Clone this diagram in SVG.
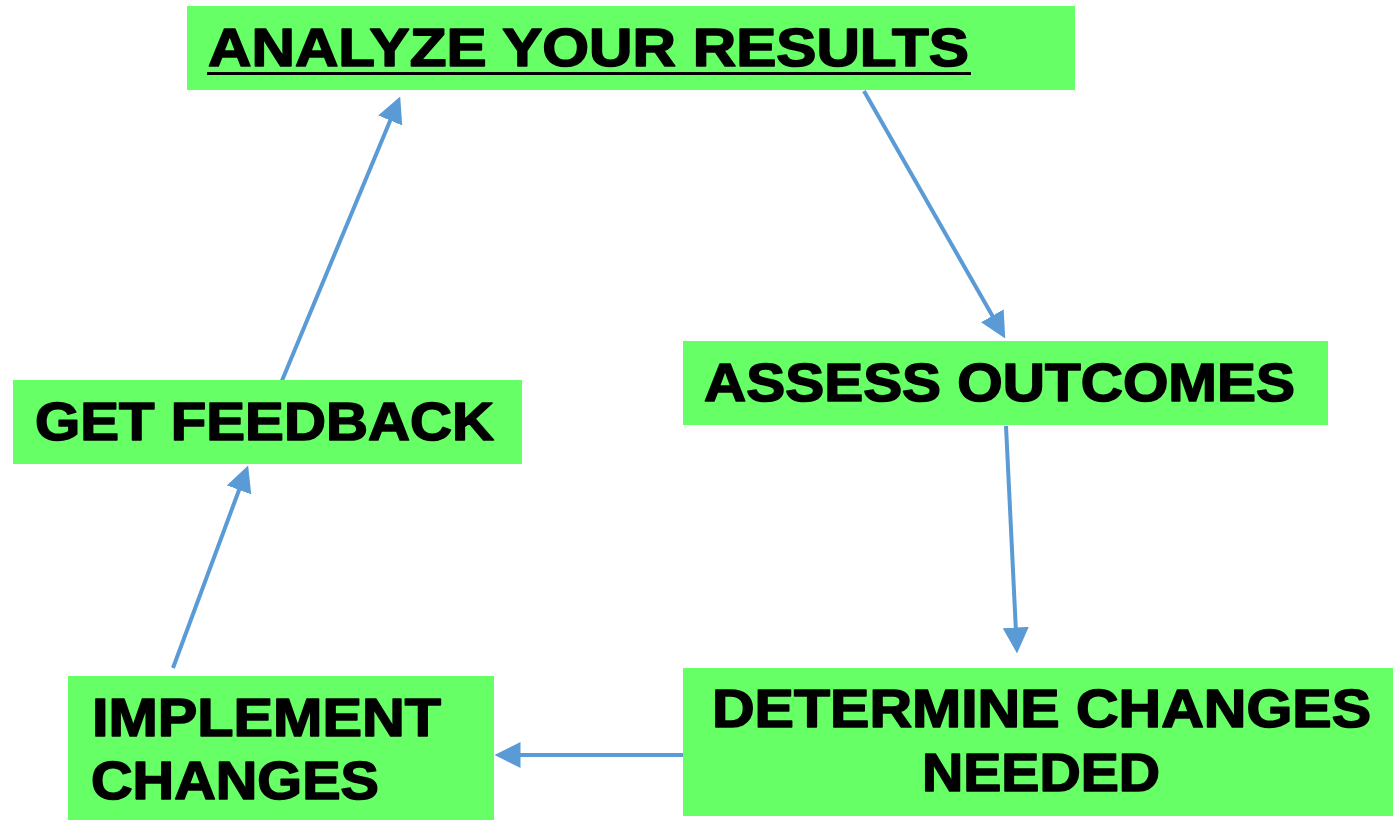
<svg xmlns="http://www.w3.org/2000/svg" width="1393" height="821" viewBox="0 0 1393 821">
<style>
.box{fill:#66FF66}
.t{font-family:"Liberation Sans",Arial,sans-serif;font-weight:bold;font-size:54px;fill:#000;stroke:#000;stroke-width:1.6;stroke-linejoin:round}
.c{stroke:#5B9BD5;stroke-width:4;fill:none;marker-end:url(#ah)}
</style>
<defs>
<marker id="ah" viewBox="0 0 10 10" markerUnits="userSpaceOnUse" markerWidth="26" markerHeight="27" refX="5" refY="5" orient="auto">
<path d="M0,0 L10,5 L0,10 z" fill="#5B9BD5"/>
</marker>
</defs>
<rect width="1393" height="821" fill="#fff"/>
<g id="connectors">
<line class="c" x1="864" y1="91" x2="998.8" y2="327.1"/>
<line class="c" x1="1006" y1="426" x2="1016.4" y2="640.5"/>
<line class="c" x1="683" y1="755" x2="507.5" y2="755"/>
<line class="c" x1="173" y1="668" x2="243.6" y2="477.7"/>
<line class="c" x1="281" y1="383" x2="395.2" y2="108.5"/>
</g>
<g id="analyze">
<rect class="box" x="187" y="6" width="888" height="84"/>
<text class="t" x="208" y="66" textLength="761" lengthAdjust="spacingAndGlyphs">ANALYZE YOUR RESULTS</text>
<rect x="207" y="72" width="764" height="3" fill="#000"/>
</g>
<g id="assess">
<rect class="box" x="683" y="341" width="645" height="84"/>
<text class="t" x="704" y="401" textLength="591" lengthAdjust="spacingAndGlyphs">ASSESS OUTCOMES</text>
</g>
<g id="determine">
<rect class="box" x="683" y="668" width="710" height="148"/>
<text class="t" x="712" y="727" textLength="659" lengthAdjust="spacingAndGlyphs">DETERMINE CHANGES</text>
<text class="t" x="922" y="791" textLength="238" lengthAdjust="spacingAndGlyphs">NEEDED</text>
</g>
<g id="implement">
<rect class="box" x="68" y="676" width="426" height="144"/>
<text class="t" x="92" y="736" textLength="349" lengthAdjust="spacingAndGlyphs">IMPLEMENT</text>
<text class="t" x="91" y="799" textLength="288" lengthAdjust="spacingAndGlyphs">CHANGES</text>
</g>
<g id="feedback">
<rect class="box" x="13" y="380" width="509" height="84"/>
<text class="t" x="35" y="440" textLength="459" lengthAdjust="spacingAndGlyphs">GET FEEDBACK</text>
</g>
</svg>
